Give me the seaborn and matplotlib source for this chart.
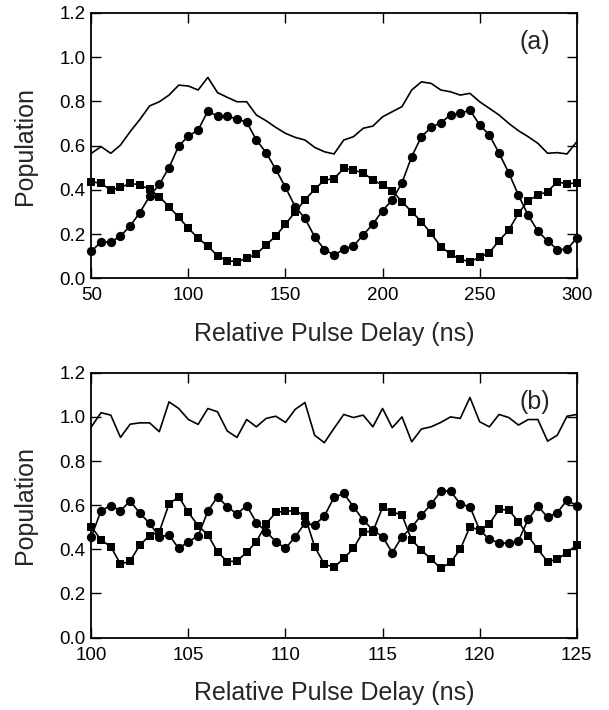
import numpy as np
import pandas as pd
import matplotlib
matplotlib.use("Agg")
import matplotlib.pyplot as plt
import seaborn as sns

# ---- painel (a): atraso 50-300 ns, passo 5 ns ----
delay_a = np.arange(50, 301, 5)
circ_a = [0.122, 0.165, 0.163, 0.191, 0.237, 0.297, 0.371, 0.425, 0.500, 0.598,
          0.643, 0.670, 0.756, 0.733, 0.733, 0.720, 0.706, 0.625, 0.568, 0.492,
          0.411, 0.324, 0.271, 0.188, 0.130, 0.105, 0.131, 0.146, 0.196, 0.245,
          0.306, 0.354, 0.432, 0.550, 0.640, 0.682, 0.703, 0.738, 0.745, 0.760,
          0.693, 0.648, 0.565, 0.477, 0.375, 0.285, 0.213, 0.169, 0.130, 0.131,
          0.182]
sq_a = [0.437, 0.429, 0.399, 0.411, 0.429, 0.422, 0.402, 0.369, 0.324, 0.276,
        0.226, 0.181, 0.146, 0.101, 0.080, 0.075, 0.090, 0.110, 0.151, 0.191,
        0.245, 0.300, 0.354, 0.402, 0.444, 0.450, 0.497, 0.489, 0.477, 0.444,
        0.422, 0.396, 0.346, 0.301, 0.256, 0.203, 0.143, 0.110, 0.086, 0.075,
        0.095, 0.116, 0.170, 0.218, 0.294, 0.351, 0.376, 0.392, 0.437, 0.426,
        0.432]
total_a = [0.565, 0.595, 0.565, 0.602, 0.663, 0.718, 0.779, 0.798, 0.828, 0.873,
           0.869, 0.851, 0.908, 0.839, 0.818, 0.798, 0.798, 0.738, 0.712, 0.682,
           0.655, 0.637, 0.625, 0.592, 0.572, 0.562, 0.625, 0.640, 0.678, 0.688,
           0.730, 0.753, 0.776, 0.851, 0.888, 0.881, 0.851, 0.843, 0.828, 0.836,
           0.798, 0.768, 0.738, 0.700, 0.667, 0.640, 0.610, 0.565, 0.568, 0.562,
           0.617]

# ---- painel (b): atraso 100-125 ns, passo 0.5 ns ----
delay_b = np.arange(100, 125.01, 0.5)
circ_b = [0.457, 0.575, 0.598, 0.575, 0.619, 0.563, 0.518, 0.457, 0.465, 0.404,
          0.435, 0.460, 0.573, 0.638, 0.593, 0.560, 0.598, 0.521, 0.480, 0.435,
          0.404, 0.457, 0.518, 0.510, 0.551, 0.635, 0.653, 0.593, 0.533, 0.487,
          0.457, 0.385, 0.457, 0.500, 0.555, 0.604, 0.664, 0.664, 0.605, 0.593,
          0.487, 0.445, 0.430, 0.427, 0.439, 0.536, 0.596, 0.545, 0.566, 0.623,
          0.598]
sq_b = [0.503, 0.442, 0.412, 0.333, 0.347, 0.420, 0.462, 0.480, 0.605, 0.638,
        0.567, 0.507, 0.465, 0.389, 0.344, 0.347, 0.386, 0.435, 0.515, 0.567,
        0.573, 0.575, 0.551, 0.412, 0.333, 0.318, 0.359, 0.404, 0.480, 0.480,
        0.590, 0.570, 0.555, 0.442, 0.397, 0.355, 0.314, 0.341, 0.400, 0.502,
        0.487, 0.515, 0.581, 0.578, 0.525, 0.460, 0.400, 0.344, 0.355, 0.385,
        0.420]
total_b = [0.955, 1.019, 1.008, 0.907, 0.967, 0.973, 0.973, 0.933, 1.068, 1.038,
           0.988, 0.966, 1.038, 1.023, 0.936, 0.907, 0.988, 0.955, 0.993, 1.003,
           0.975, 1.034, 1.065, 0.917, 0.883, 0.948, 1.011, 0.997, 1.008, 0.955,
           1.038, 0.951, 1.000, 0.887, 0.945, 0.955, 0.975, 1.000, 0.993, 1.088,
           0.978, 0.955, 1.011, 0.997, 0.963, 0.988, 0.988, 0.890, 0.917, 1.003,
           1.011]

sns.set_theme(style="ticks")
plt.rcParams['font.family'] = ['Liberation Sans', 'DejaVu Sans']

fig = plt.figure(figsize=(6.09, 7.10), dpi=100)
ax_a = fig.add_axes([0.150, 0.608, 0.797, 0.374])
ax_b = fig.add_axes([0.150, 0.102, 0.797, 0.373])


def desenhar(ax, x, total, circ, sq, xlim, xticks, rotulo):
    # marcadores nas bordas ficam inteiros, como no original
    sns.lineplot(x=x, y=total, ax=ax, color="black", lw=1.2, clip_on=False)
    sns.lineplot(x=x, y=circ, ax=ax, color="black", lw=1.2, marker="o",
                 markersize=6.7, markeredgewidth=0, markerfacecolor="black",
                 clip_on=False)
    sns.lineplot(x=x, y=sq, ax=ax, color="black", lw=1.2, marker="s",
                 markersize=6.3, markeredgewidth=0, markerfacecolor="black",
                 clip_on=False)
    ax.set_xlim(*xlim)
    ax.set_ylim(0, 1.2)
    ax.set_xticks(xticks)
    ax.set_yticks(np.arange(0, 1.21, 0.2))
    ax.set_yticklabels([f"{v:.1f}" for v in np.arange(0, 1.21, 0.2)])
    ax.tick_params(direction="in", length=7.5, width=1.0, top=True, right=True,
                   labelsize=13.5, colors="black")
    ax.tick_params(axis="x", pad=6.5)
    ax.tick_params(axis="y", pad=4)
    for s in ax.spines.values():
        s.set_linewidth(1.3)
        s.set_color("black")
    ax.set_xlabel("Relative Pulse Delay (ns)", fontsize=18, labelpad=12.5)
    ax.set_ylabel("Population", fontsize=18, labelpad=16)
    ax.text(0.945, 0.89, rotulo, transform=ax.transAxes, fontsize=18,
            ha="right", va="center")


desenhar(ax_a, delay_a, total_a, circ_a, sq_a, (50, 300),
         [50, 100, 150, 200, 250, 300], "(a)")
desenhar(ax_b, delay_b, total_b, circ_b, sq_b, (100, 125),
         [100, 105, 110, 115, 120, 125], "(b)")

fig.savefig("out.png", dpi=100, facecolor="white")
